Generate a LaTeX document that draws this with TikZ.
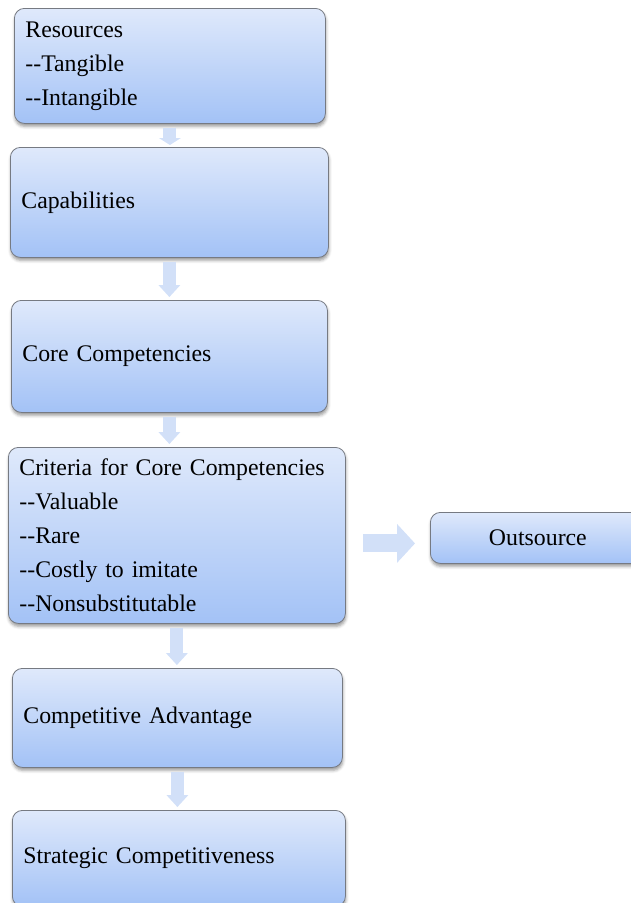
\documentclass[tikz,border=0pt]{standalone}
\usepackage{fontspec}
\setmainfont{Liberation Serif}[Ligatures=TeXOff]
\usetikzlibrary{arrows.meta, shadows.blur}
\definecolor{boxtop}{RGB}{223,233,251}
\definecolor{boxbot}{RGB}{163,194,246}
\definecolor{boxline}{RGB}{118,122,130}
\definecolor{arrfill}{RGB}{210,224,248}

\begin{document}
\begin{tikzpicture}[x=1pt,y=-1pt,
  box/.style={draw=boxline, line width=0.8pt, rounded corners=10pt, top color=boxtop, bottom color=boxbot,
    anchor=north west, align=left, inner xsep=11pt, font=\fontsize{23.8}{34}\selectfont,
    blur shadow={shadow xshift=0.5pt, shadow yshift=-3pt, shadow blur radius=3pt, shadow opacity=40}},
  down/.style={draw=arrfill, line width=13pt, -{Triangle[width=22pt,length=12pt,line width=0pt]}, shorten <=4pt, shorten >=3pt},
  side/.style={draw=arrfill, line width=18pt, -{Triangle[width=39pt,length=18pt,line width=0pt]}, shorten <=17pt, shorten >=15pt}]
\useasboundingbox (0,0) rectangle (631,903);
\node[box, text width=289pt, minimum height=115pt] (res) at (14,8) {Resources\\--Tangible\\--Intangible};
\node[box, text width=296pt, minimum height=110pt] (cap) at (10,147) {Capabilities};
\node[box, text width=294pt, minimum height=112pt] (core) at (11,300) {Core Competencies};
\node[box, text width=315pt, minimum height=176pt] (crit) at (8,447) {Criteria for Core Competencies\\--Valuable\\--Rare\\--Costly to imitate\\--Nonsubstitutable};
\node[box, align=center, text width=193pt, minimum height=51pt] (out) at (430,512) {Outsource};
\node[box, text width=308pt, minimum height=99pt] (adv) at (12,668) {Competitive Advantage};
\node[box, text width=311pt, minimum height=96pt] (strat) at (12,810) {Strategic Competitiveness};
\draw[down, -{Triangle[width=22pt,length=7pt,line width=0pt]}, shorten >=2pt] (res.south) -- (res.south |- cap.north);
\draw[down] (cap.south) -- (cap.south |- core.north);
\draw[down] (core.south) -- (core.south |- crit.north);
\draw[down] (crit.south) -- (crit.south |- adv.north);
\draw[down] (adv.south) -- (adv.south |- strat.north);
\draw[side] ([yshift=-8pt]crit.east) -- ([yshift=-8pt]crit.east -| out.west);
\end{tikzpicture}
\end{document}
